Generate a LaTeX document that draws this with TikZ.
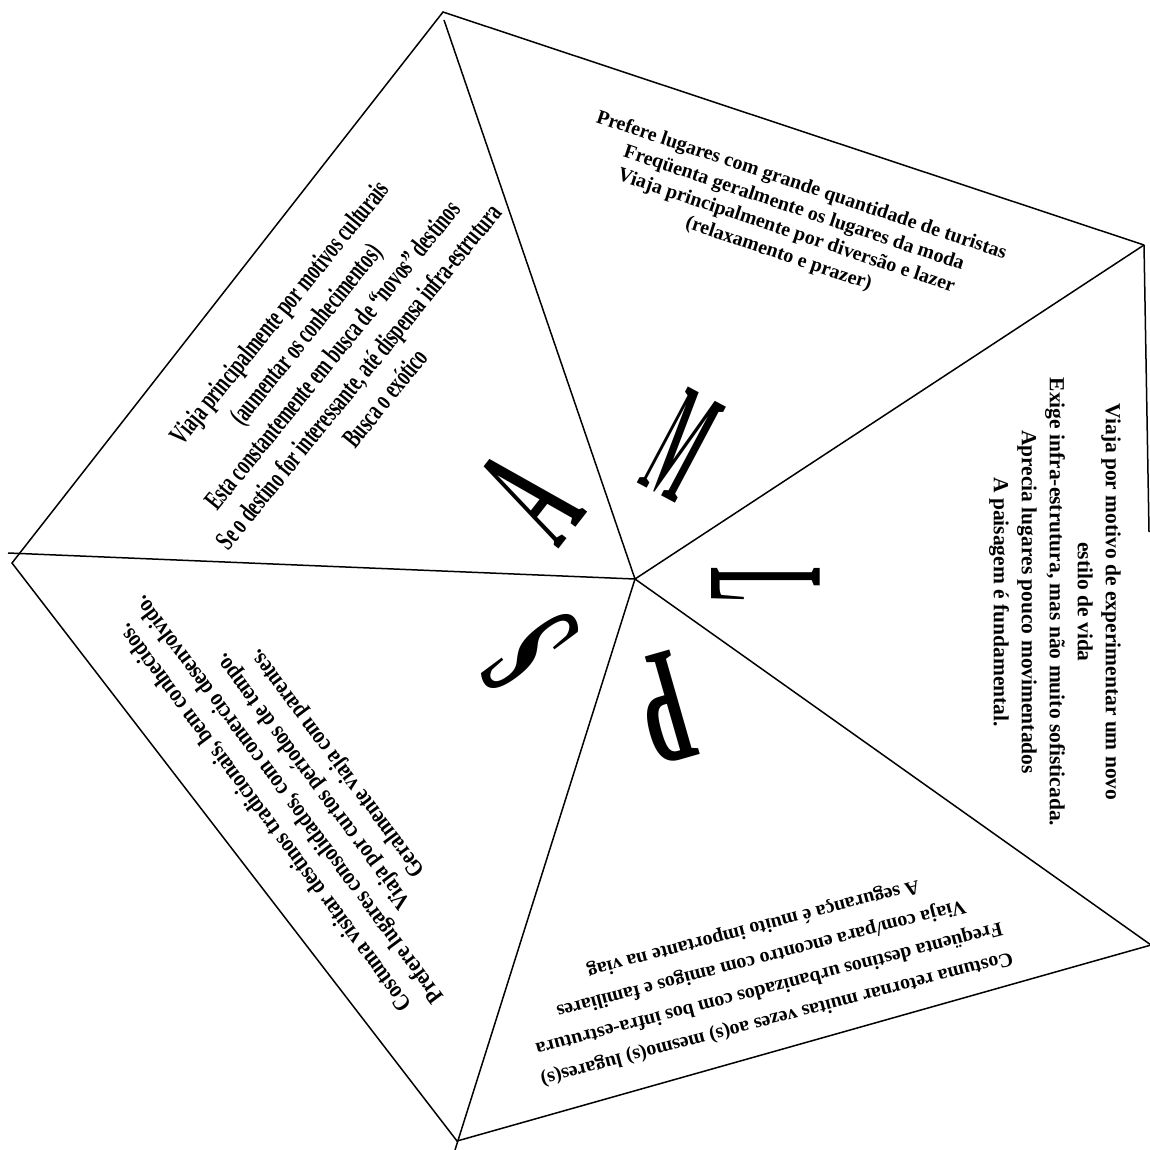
\documentclass[tikz,border=0pt]{standalone}
\usepackage{fontspec}
\setmainfont{Liberation Serif}
\begin{document}
\begin{tikzpicture}[x=1pt, y=-1pt, line width=1.5pt,
  every node/.style={inner sep=0pt},
  blk/.style={align=center, font=\bfseries\fontsize{20}{#1}\selectfont},
  big/.style={font=\bfseries\fontsize{166}{166}\selectfont}]
  \useasboundingbox (0,0) rectangle (1150,1149);
  \coordinate (O) at (635,579);
  \coordinate (T) at (443,12);
  \coordinate (U) at (1144,245);
  \coordinate (Q) at (1151,945);
  \coordinate (B) at (457,1141);
  \coordinate (W) at (12,563);
  \coordinate (t) at (444,20);
  \coordinate (u) at (1149,532);
  \coordinate (b) at (455,1150);
  \coordinate (w) at (8,553);
  \draw (U)--(T)--(W)--(B)--(Q) (U)--(u);
  \draw (O)--(t) (O)--(U) (O)--(Q) (O)--(b) (O)--(w);
  % big letters
  \node[big, rotate=-28, xscale=.29] (M) at (682,445) {M};
  \node[big, rotate=-90, xscale=.31] (L) at (766,585) {L};
  \node[big, rotate=196, xscale=.45] (P) at (665,708) {P};
  \node[big, rotate=126.7, xscale=.36] (S) at (530,652) {S};
  \node[big, rotate=52, xscale=.4] (A) at (530,497) {A};
  % texts
  \node[blk=24, rotate=-18.5] (tM) at (790,220) {Prefere lugares com grande quantidade de turistas\\
    Freqüenta geralmente os lugares da moda\\
    Viaja principalmente por diversão e lazer\\
    (relaxamento e prazer)};
  \node[blk=28, font=\bfseries\fontsize{21.5}{28}\selectfont, rotate=-90] (tL) at (1055,602) {Viaja por motivo de experimentar um novo\\
    estilo de vida\\
    Exige infra-estrutura, mas não muito sofisticada.\\
    Aprecia lugares pouco movimentados\\
    A paisagem é fundamental.};
  \node[blk=31, rotate=194.6] (tP) at (765,973) {Costuma retornar muitas vezes ao(s) mesmo(s) lugares(s)\\
    Freqüenta destinos urbanizados com bos infra-estrutura\\
    Viaja com/para encontro com amigos e familiares\\
    A segurança é muito importante na viag};
  \node[blk=30, font=\bfseries\fontsize{24}{30}\selectfont, rotate=126.7, xscale=.85] (tS) at (302,790) {Costuma visitar destinos tradicionais, bem conhecidos.\\
    Prefere lugares consolidados, com comercio desenvolvido.\\
    Viaja por curtos períodos de tempo.\\
    Geralmente viaja com parentes.};
  \node[blk=34, font=\bfseries\fontsize{28}{34}\selectfont, rotate=51, xscale=.64] (tA) at (332,355) {Viaja principalmente por motivos culturais\\
    (aumentar os conhecimentos)\\
    Esta constantemente em busca de “novos” destinos\\
    Se o destino for interessante, até dispensa infra-estrutura\\
    Busca o exótico};
\end{tikzpicture}
\end{document}
